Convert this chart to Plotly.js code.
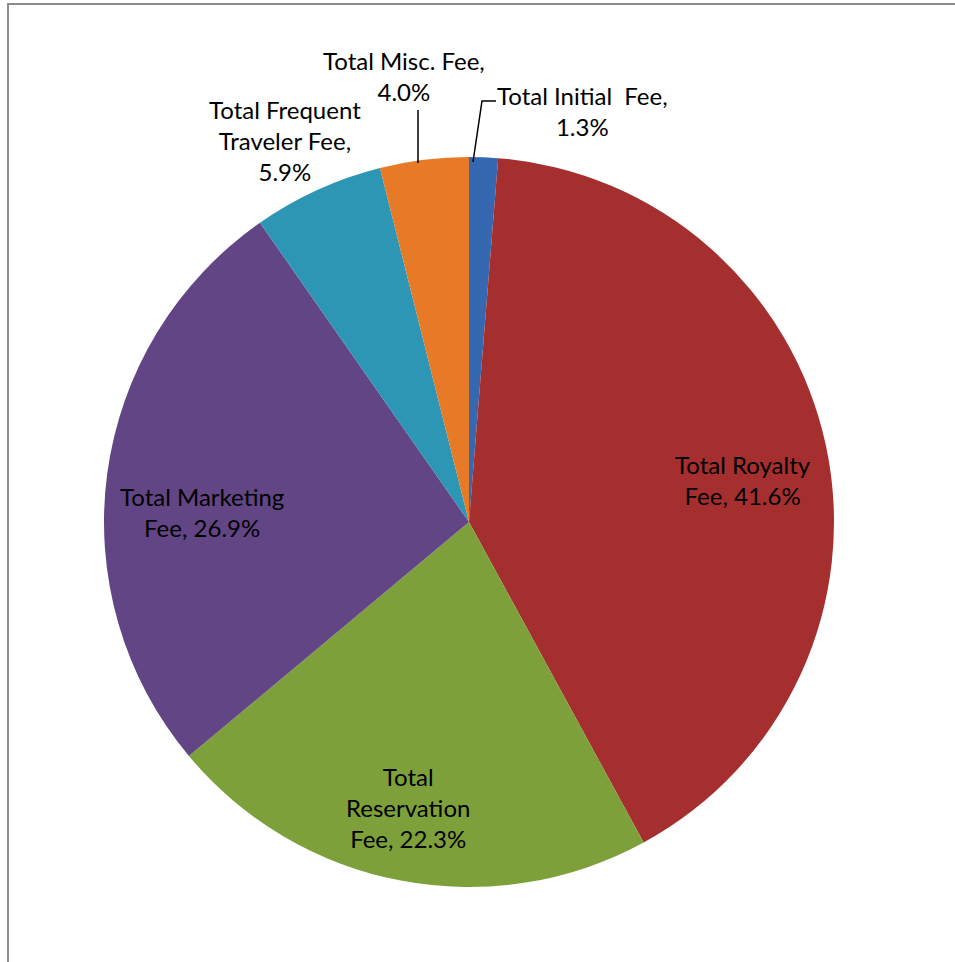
<!DOCTYPE html>
<html>
<head>
<meta charset="utf-8">
<script src="https://cdn.plot.ly/plotly-3.0.1.min.js"></script>
<style>
html,body{margin:0;padding:0;background:#fff;overflow:hidden;}
#frame{position:absolute;left:7px;top:3px;width:1000px;height:1000px;border-left:2px solid #8c8c8c;border-top:2px solid #8c8c8c;}
#chart{position:absolute;left:0;top:0;width:955px;height:962px;}
</style>
</head>
<body>
<div id="frame"></div>
<div id="chart"></div>
<script>
// Data (clockwise from 12 o'clock)
const categories = ["Total Initial Fee", "Total Royalty Fee", "Total Reservation Fee", "Total Marketing Fee", "Total Frequent Traveler Fee", "Total Misc. Fee"];
const shares = [1.3, 41.6, 22.3, 26.9, 5.9, 4.0];
const displayLabels = ["Total Initial&nbsp; Fee,", "Total Royalty<br>Fee,", "Total<br>Reservation<br>Fee,", "Total Marketing<br>Fee,", "Total Frequent<br>Traveler Fee,", "Total Misc. Fee,"];
const colors = ["#3568b0", "#a52f2e", "#7da03a", "#624584", "#2d96b5", "#e67a27"];

// Label placement (pixels in the 955x962 page) - layout only
const W = 955, H = 962;
const labelPos = [[582, 111], [743, 480], [408, 807], [202, 512], [285, 141], [404, 76]];
const FONT = {family: "Lato, 'Open Sans', sans-serif", size: 24, color: "#000"};

const texts = displayLabels.map((l, i) => {
  const pct = shares[i].toFixed(1) + "%";
  return (l.endsWith("Fee,") && (i >= 1 && i <= 3)) ? l + " " + pct : l + "<br>" + pct;
});

const trace = {
  type: "pie",
  labels: categories,
  values: shares,
  textinfo: "none",
  sort: false,
  direction: "clockwise",
  rotation: 0,
  marker: {colors: colors, line: {width: 0}},
  domain: {x: [104/W, 834/W], y: [75/H, 805/H]},
  hoverinfo: "label+percent",
  showlegend: false
};

const annotations = texts.map((t, i) => ({
  text: t,
  xref: "paper", yref: "paper",
  x: labelPos[i][0] / W, y: 1 - labelPos[i][1] / H,
  xanchor: "center", yanchor: "middle",
  showarrow: false,
  font: FONT,
  align: "center"
}));

const P = (x, y) => [x / W, 1 - y / H];
const lineStyle = {color: "#000", width: 1.5};
const shapes = [
  // leader for Misc
  {type: "line", xref: "paper", yref: "paper", x0: P(418,110)[0], y0: P(418,110)[1], x1: P(418,163)[0], y1: P(418,163)[1], line: lineStyle},
  // leader for Initial (elbow)
  {type: "path", xref: "paper", yref: "paper",
   path: `M ${P(473,162)[0]} ${P(473,162)[1]} L ${P(482,101)[0]} ${P(482,101)[1]} L ${P(496,101)[0]} ${P(496,101)[1]}`,
   line: lineStyle}
];

Plotly.newPlot("chart", [trace], {
  width: W, height: H,
  margin: {l: 0, r: 0, t: 0, b: 0},
  paper_bgcolor: "rgba(0,0,0,0)",
  plot_bgcolor: "rgba(0,0,0,0)",
  showlegend: false,
  annotations: annotations,
  shapes: shapes
}, {displayModeBar: false, staticPlot: true});
</script>
</body>
</html>
